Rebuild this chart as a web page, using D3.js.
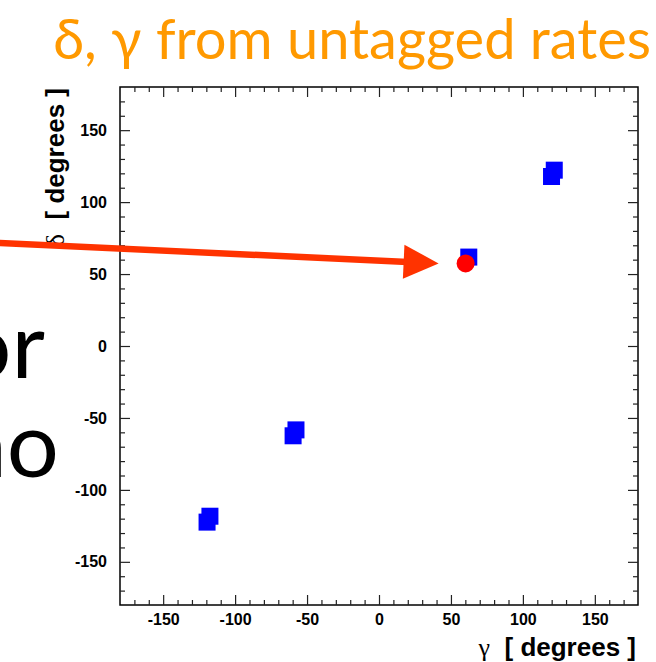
<!DOCTYPE html>
<html>
<head>
<meta charset="utf-8">
<script src="https://cdn.jsdelivr.net/npm/d3@7"></script>
<style>
  html, body { margin: 0; padding: 0; background: #fff; overflow: hidden; }
  svg { display: block; }
</style>
</head>
<body>
<svg id="chart" width="656" height="662"></svg>
<script>
// Fitted solutions for (gamma, delta), two ambiguous fits per quadrant
const fitGammaA = [-117.5, -57.7, 62.4, 121.8];
const fitDeltaA = [-118.3, -58.3, 61.8, 122.2];
const fitGammaB = [-119.5, -59.7, 119.9];
const fitDeltaB = [-122.4, -62.4, 117.8];

// Input (true) value
const trueGamma = [60.2];
const trueDelta = [57.4];

// Axis ticks (degrees)
const majorTicks = [-150, -100, -50, 0, 50, 100, 150];
const minorTicks = d3.range(-170, 180, 10).filter(v => v % 50 !== 0);

const svg = d3.select("#chart");

const plot = { left: 120, right: 638, top: 87, bottom: 605 };

const x = d3.scaleLinear().domain([-180, 180]).range([plot.left, plot.right]);
const y = d3.scaleLinear().domain([-180, 180]).range([plot.bottom, plot.top]);

const tickFont = "bold 16px 'Liberation Sans', Arial, sans-serif";
const fmt = d => String(d);

// Title
svg.append("text")
  .attr("x", 651).attr("y", 59)
  .attr("text-anchor", "end")
  .attr("fill", "#ff9900")
  .style("font", "56px Lato, 'Open Sans', sans-serif")
  .text("δ, γ from untagged rates");

// Large slide text at the left margin
svg.append("text")
  .attr("x", 45).attr("y", 378)
  .attr("text-anchor", "end")
  .attr("fill", "#000")
  .style("font", "92px Lato, sans-serif")
  .text("or");
svg.append("text")
  .attr("x", 59).attr("y", 477)
  .attr("text-anchor", "end")
  .attr("fill", "#000")
  .style("font", "92px Lato, sans-serif")
  .text("no");

// Frame
svg.append("rect")
  .attr("x", plot.left).attr("y", plot.top)
  .attr("width", plot.right - plot.left).attr("height", plot.bottom - plot.top)
  .attr("fill", "none").attr("stroke", "#000").attr("stroke-width", 1.5);

function styleAxis(g) {
  g.select(".domain").remove();
  g.selectAll(".tick line").attr("stroke", "#222").attr("stroke-width", 1.2);
  g.selectAll(".tick text").style("font", tickFont).attr("fill", "#000");
}

// Bottom axis: labelled major ticks + minor ticks, pointing inward
svg.append("g").attr("transform", `translate(0,${plot.bottom})`)
  .call(d3.axisBottom(x).tickValues(majorTicks).tickSize(-10).tickPadding(9).tickFormat(fmt))
  .call(styleAxis);
svg.append("g").attr("transform", `translate(0,${plot.bottom})`)
  .call(d3.axisBottom(x).tickValues(minorTicks).tickSize(-5).tickFormat(""))
  .call(styleAxis);
// Top axis
svg.append("g").attr("transform", `translate(0,${plot.top})`)
  .call(d3.axisTop(x).tickValues(majorTicks).tickSize(-10).tickFormat(""))
  .call(styleAxis);
svg.append("g").attr("transform", `translate(0,${plot.top})`)
  .call(d3.axisTop(x).tickValues(minorTicks).tickSize(-5).tickFormat(""))
  .call(styleAxis);
// Left axis
svg.append("g").attr("transform", `translate(${plot.left},0)`)
  .call(d3.axisLeft(y).tickValues(majorTicks).tickSize(-10).tickPadding(13).tickFormat(fmt))
  .call(styleAxis);
svg.append("g").attr("transform", `translate(${plot.left},0)`)
  .call(d3.axisLeft(y).tickValues(minorTicks).tickSize(-5).tickFormat(""))
  .call(styleAxis);
// Right axis
svg.append("g").attr("transform", `translate(${plot.right},0)`)
  .call(d3.axisRight(y).tickValues(majorTicks).tickSize(-10).tickFormat(""))
  .call(styleAxis);
svg.append("g").attr("transform", `translate(${plot.right},0)`)
  .call(d3.axisRight(y).tickValues(minorTicks).tickSize(-5).tickFormat(""))
  .call(styleAxis);

// Axis titles
const titleFont = "bold 26px 'Liberation Sans', Arial, sans-serif";
const greekFont = "26px 'Liberation Serif', 'DejaVu Serif', serif";

const xTitle = svg.append("text")
  .attr("x", 636).attr("y", 656)
  .attr("text-anchor", "end")
  .attr("fill", "#000")
  .style("font", titleFont);
xTitle.append("tspan").style("font", greekFont).text("γ");
xTitle.append("tspan").attr("xml:space", "preserve").text("  [ degrees ]");

const yTitle = svg.append("text")
  .attr("transform", "translate(64,88) rotate(-90)")
  .attr("text-anchor", "end")
  .attr("fill", "#000")
  .style("font", titleFont);
yTitle.append("tspan").style("font", greekFont).text("δ");
yTitle.append("tspan").attr("xml:space", "preserve").text("  [ degrees ]");

// Fit results: filled squares
const sq = 17;
const fitPoints = fitGammaB.map((g, i) => [g, fitDeltaB[i]])
  .concat(fitGammaA.map((g, i) => [g, fitDeltaA[i]]));
svg.append("g").selectAll("rect")
  .data(fitPoints)
  .join("rect")
  .attr("x", d => x(d[0]) - sq / 2)
  .attr("y", d => y(d[1]) - sq / 2)
  .attr("width", sq).attr("height", sq)
  .attr("fill", "#0000ff");

// True value: filled circle
svg.append("g").selectAll("circle")
  .data(trueGamma.map((g, i) => [g, trueDelta[i]]))
  .join("circle")
  .attr("cx", d => x(d[0]))
  .attr("cy", d => y(d[1]))
  .attr("r", 9)
  .attr("fill", "#ff0000");

// Arrow pointing at the true value
const tip = [x(trueGamma[0]) - 27, y(trueDelta[0])];
const start = [-4, 242.8];
const dx = tip[0] - start[0], dy = tip[1] - start[1];
const len = Math.hypot(dx, dy);
const ux = dx / len, uy = dy / len;
const headLen = 35, headHalf = 17;
const back = [tip[0] - ux * headLen, tip[1] - uy * headLen];
const arrowColor = "#ff3300";
svg.append("line")
  .attr("x1", start[0]).attr("y1", start[1])
  .attr("x2", back[0] + ux * 4).attr("y2", back[1] + uy * 4)
  .attr("stroke", arrowColor).attr("stroke-width", 6.5);
svg.append("path")
  .attr("d", d3.line()([
    tip,
    [back[0] - uy * headHalf, back[1] + ux * headHalf],
    [back[0] + uy * headHalf, back[1] - ux * headHalf]
  ]) + "Z")
  .attr("fill", arrowColor);
</script>
</body>
</html>
